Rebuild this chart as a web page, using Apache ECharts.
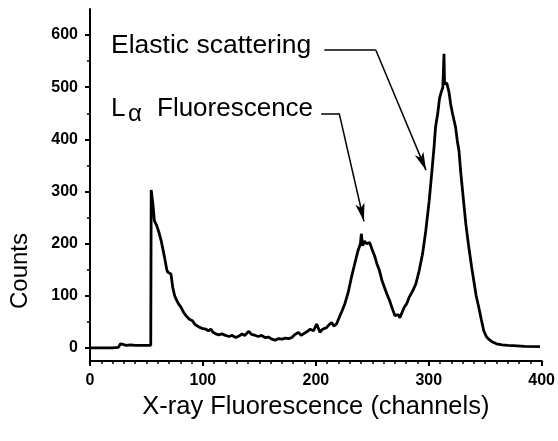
<!DOCTYPE html>
<html>
<head>
<meta charset="utf-8">
<script src="https://cdn.jsdelivr.net/npm/echarts@6/dist/echarts.min.js"></script>
<style>html,body{margin:0;padding:0;background:#fff}#c{width:558px;height:441px}</style>
</head>
<body>
<div id="c"></div>
<script>
// Spectrum readings: channel numbers and counts
var channels = [0,10,20,25,27,29,32,36,40,45,50,53.8,54.2,55,56,57,59,61,63,64.5,66,68,69,71.7,73.3,75,76.2,78,80.6,83,85,88,90.8,93,96.7,100,102.6,105,107,109,111.4,114,117,120,123,126,129,132,134.8,137,140.7,143,146.5,149,152,155,158,161,164,167,170,173,176,178.8,181,184.6,187,189,192,195,198,200.7,203.7,206,209.5,212,214,216,218.3,221,223,225.6,228.6,231.5,234.4,237.4,239.5,240.3,241.5,243,245,247.7,250,252,254,256.4,258.5,260.8,263,265.3,268,270,271.5,273,274.5,276,278.3,280.5,282.6,285.5,288.6,291.5,294.5,297.4,300.4,302,304.7,306,308,309.5,311,312.5,313.5,314,316,318,319.4,321,323.8,325.3,326.8,328.2,331.1,333,335.5,338,339.9,342,344.3,346.5,348.7,351,353,356,360,365,370,375,385,398.5];
var counts = [0,0,0,1,8,7,5,6,5,5,5,5,303,300,270,244,235,222,206,190,174,150,145,142,116,100,94,86,78,68,62,55,52,45,40,37,36,33,36,30,27,25,27,24,22,24,20,23,27,24,32,26,24,22,24,20,21,17,15,18,17,19,18,20,25,30,24,27,31,36,33,46,30,36,39,45,49,42,46,60,70,84,106,135,161,187,200,219,196,205,200,202,188,177,162,148,130,116,103,91,74,62,59,64,58,66,78,85,97,108,123,148,180,225,282,320,385,423,450,478,490,500,564,506,508,490,468,450,423,397,378,340,276,235,193,155,129,100,78,55,33,22,17,12,8,6,5,4.5,3,2.5];
var xTicks = [0,100,200,300,400];
var yMajorTicks = [0,100,200,300,400,500,600];
var yMinorTicks = [50,150,250,350,450,550];
// Annotation arrows in data coordinates: [elbow start, elbow end, arrow tip]
var elasticArrow = [[207.5,571],[253.2,571],[297.6,341]];
var lalphaArrow = [[204.8,450],[220.7,450],[242.6,243]];

var seriesData = channels.map(function(c,i){return [c,counts[i]];});
var chart = echarts.init(document.getElementById('c'), null, {renderer:'canvas'});
var font = 'Liberation Sans, Arial, sans-serif';
function arrowLines(a){
  return [
    [{coord:a[0],symbol:'none'},{coord:a[1],symbol:'none'}],
    [{coord:a[1],symbol:'none'},{coord:a[2],symbol:'arrow',symbolSize:[7,18]}]
  ];
}
chart.setOption({
  animation:false,
  backgroundColor:'#fff',
  grid:{left:90,right:13,top:9,bottom:80},
  xAxis:{
    type:'value',min:0,max:400,interval:100,
    axisLine:{onZero:false,lineStyle:{color:'#000',width:2}},
    axisTick:{show:true,length:5,lineStyle:{color:'#000',width:2}},
    minorTick:{show:true,splitNumber:10,length:3,lineStyle:{color:'#000',width:1.5}},
    splitLine:{show:false},minorSplitLine:{show:false},
    axisLabel:{color:'#000',fontSize:16,fontWeight:'bold',fontFamily:font,margin:12,showMaxLabel:true,showMinLabel:true},
    name:'X-ray Fluorescence (channels)',nameLocation:'middle',nameGap:19,
    nameTextStyle:{color:'#000',fontSize:25.5,fontFamily:font}
  },
  yAxis:[{
    type:'value',min:-25,max:650,position:'left',
    axisLine:{show:true,onZero:false,lineStyle:{color:'#000',width:2}},
    axisTick:{show:true,customValues:yMajorTicks,length:5,lineStyle:{color:'#000',width:2}},
    axisLabel:{customValues:yMajorTicks,color:'#000',fontSize:16,fontWeight:'bold',fontFamily:font,margin:12},
    splitLine:{show:false}
  },{
    type:'value',min:-25,max:650,position:'left',
    axisLine:{show:false},
    axisTick:{show:true,customValues:yMinorTicks,length:3,lineStyle:{color:'#000',width:1.5}},
    axisLabel:{show:false},
    splitLine:{show:false}
  }],
  series:[{
    type:'line',data:seriesData,yAxisIndex:0,showSymbol:false,symbol:'none',
    lineStyle:{color:'#000',width:2.8},
    markLine:{
      silent:true,animation:false,
      label:{show:false},
      lineStyle:{color:'#000',width:1.5,type:'solid'},
      emphasis:{disabled:true},
      data:arrowLines(elasticArrow).concat(arrowLines(lalphaArrow))
    }
  }],
  graphic:[
    {type:'text',x:20,y:271,rotation:Math.PI/2,style:{text:'Counts',fontSize:24,fontFamily:font,fill:'#000',align:'center',verticalAlign:'middle'}},
    {type:'text',x:111,y:46,style:{text:'Elastic scattering',fontSize:26.5,fontFamily:font,fill:'#000',align:'left',verticalAlign:'middle'}},
    {type:'text',x:111,y:109,style:{text:'L',fontSize:26,fontFamily:font,fill:'#000',align:'left',verticalAlign:'middle'}},
    {type:'text',x:128,y:114,style:{text:'α',fontSize:24,fontFamily:font,fill:'#000',align:'left',verticalAlign:'middle'}},
    {type:'text',x:157,y:109,style:{text:'Fluorescence',fontSize:26,fontFamily:font,fill:'#000',align:'left',verticalAlign:'middle'}}
  ]
});
</script>
</body>
</html>
